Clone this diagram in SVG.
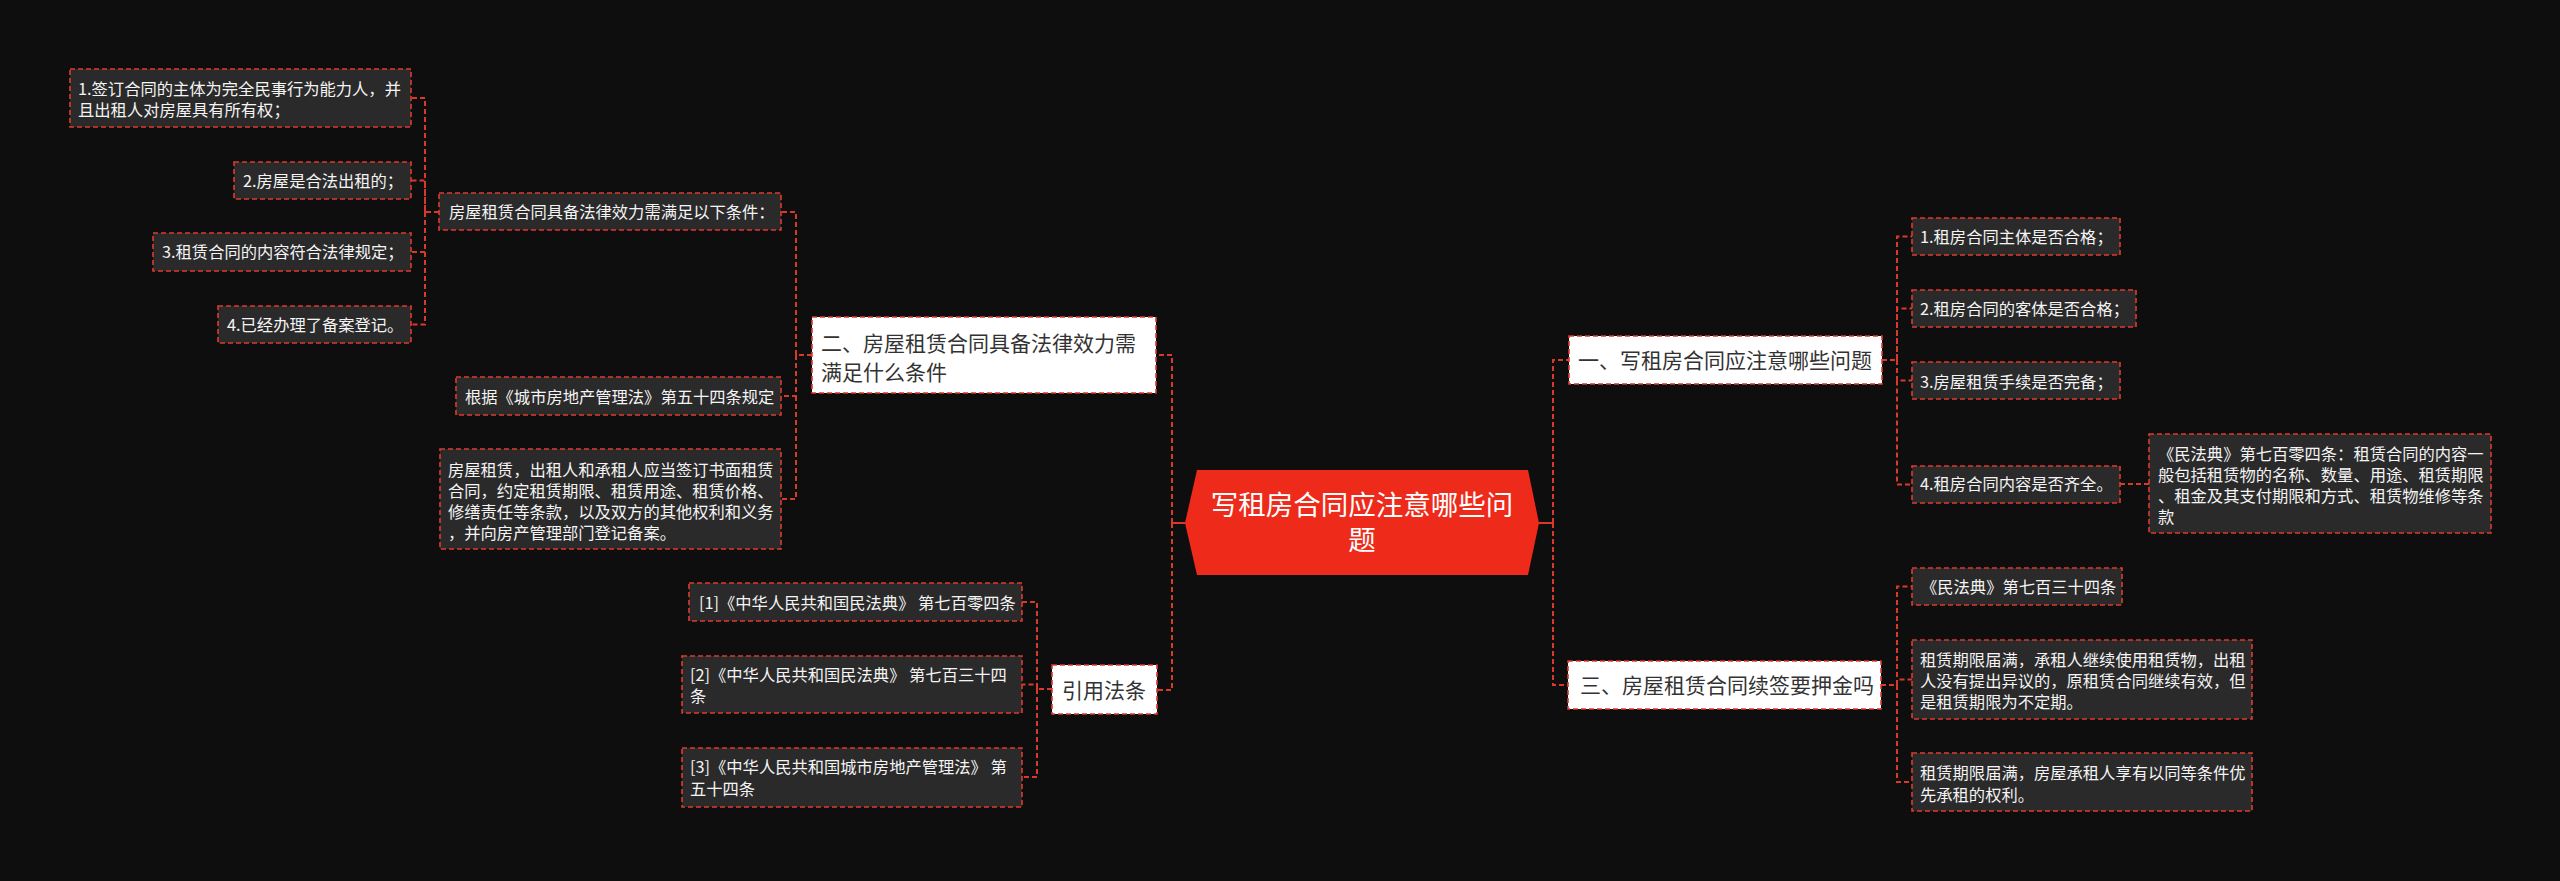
<svg xmlns="http://www.w3.org/2000/svg" width="2560" height="881" viewBox="0 0 2560 881">
<style>
.bg{fill:#0e0e0e}
text{font-family:"Noto Sans CJK SC","Noto Sans",sans-serif}
.leaf rect{fill:#2a2a2a;stroke:#e03a2e;stroke-width:1.6;stroke-dasharray:5 3}
.leaf text{fill:#f4f4f4;font-size:16.3px}
.l1 rect{fill:#ffffff;stroke:#e03a2e;stroke-width:1.6;stroke-dasharray:5 3}
.l1 text{fill:#333333;font-size:21px}
.root polygon{fill:#ee2a1a}
.root text{fill:#ffffff;font-size:27.5px;text-anchor:middle}
.conn path{fill:none;stroke:#d9382c;stroke-width:2;stroke-dasharray:5 3}
.conn path.solid{stroke-dasharray:none}
</style>
<rect class="bg" x="0" y="0" width="2560" height="881"/>
<g id="connectors" class="conn">
<path class="solid" d="M1185,523 H1172"/>
<path d="M1172,523 V355 H1156"/>
<path d="M1172,523 V690 H1157"/>
<path class="solid" d="M1539,523 H1553"/>
<path d="M1553,523 V360 H1569"/>
<path d="M1553,523 V685 H1568"/>
<path d="M812,355 H796 V212 H781"/>
<path d="M796,355 V396 H781"/>
<path d="M796,396 V499 H781"/>
<path d="M439,212 H425 V98 H411"/>
<path d="M425,212 V180.5 H411"/>
<path d="M425,212 V252 H411"/>
<path d="M425,252 V324.5 H411"/>
<path d="M1052,689 H1037 V602 H1022"/>
<path d="M1037,689 V684.5 H1022"/>
<path d="M1037,689 V777 H1022"/>
<path d="M1882,360 H1897 V236.5 H1912"/>
<path d="M1897,360 V308.5 H1912"/>
<path d="M1897,360 V380.5 H1912"/>
<path d="M1897,380.5 V484.5 H1912"/>
<path d="M2120,484 H2149"/>
<path d="M1881,685 H1897 V586.5 H1912"/>
<path d="M1897,685 V679.5 H1912"/>
<path d="M1897,685 V782 H1912"/>
</g>
<g id="root" class="root">
<polygon points="1197,470 1528,470 1539,523 1528,575 1197,575 1185,523"/>
<text x="1362" y="515">写租房合同应注意哪些问</text>
<text x="1362" y="550">题</text>
</g>
<g id="n-er" class="l1">
<rect x="812" y="317" width="344" height="76"/>
<text x="821" y="350.5">二、房屋租赁合同具备法律效力需</text>
<text x="821" y="379.5">满足什么条件</text>
</g>
<g id="n-yinyong" class="l1">
<rect x="1052" y="665" width="105" height="49"/>
<text x="1104" y="697.5" text-anchor="middle">引用法条</text>
</g>
<g id="n-yi" class="l1">
<rect x="1569" y="336" width="313" height="48"/>
<text x="1578" y="367.5">一、写租房合同应注意哪些问题</text>
</g>
<g id="n-san" class="l1">
<rect x="1568" y="661" width="313" height="48"/>
<text x="1580" y="692.5">三、房屋租赁合同续签要押金吗</text>
</g>
<g id="n-p1" class="leaf">
<rect x="439" y="193" width="342" height="37"/>
<text x="449" y="218">房屋租赁合同具备法律效力需满足以下条件：</text>
</g>
<g id="n-c1" class="leaf">
<rect x="70" y="69" width="341" height="58"/>
<text x="78" y="95">1.签订合同的主体为完全民事行为能力人，并</text>
<text x="78" y="116">且出租人对房屋具有所有权；</text>
</g>
<g id="n-c2" class="leaf">
<rect x="234" y="162" width="177" height="37"/>
<text x="243" y="186.5">2.房屋是合法出租的；</text>
</g>
<g id="n-c3" class="leaf">
<rect x="153" y="233" width="258" height="38"/>
<text x="162" y="258">3.租赁合同的内容符合法律规定；</text>
</g>
<g id="n-c4" class="leaf">
<rect x="218" y="306" width="193" height="37"/>
<text x="227" y="330.5">4.已经办理了备案登记。</text>
</g>
<g id="n-genju" class="leaf">
<rect x="456" y="377" width="325" height="38"/>
<text x="465" y="403">根据《城市房地产管理法》第五十四条规定</text>
</g>
<g id="n-fangwu" class="leaf">
<rect x="440" y="449" width="341" height="100"/>
<text x="448" y="475.5">房屋租赁，出租人和承租人应当签订书面租赁</text>
<text x="448" y="496.5">合同，约定租赁期限、租赁用途、租赁价格、</text>
<text x="448" y="517.5">修缮责任等条款，以及双方的其他权利和义务</text>
<text x="448" y="538.5">，并向房产管理部门登记备案。</text>
</g>
<g id="n-ref1" class="leaf">
<rect x="689" y="583" width="333" height="38"/>
<text x="699" y="609">[1]《中华人民共和国民法典》 第七百零四条</text>
</g>
<g id="n-ref2" class="leaf">
<rect x="682" y="656" width="340" height="57"/>
<text x="690" y="681">[2]《中华人民共和国民法典》 第七百三十四</text>
<text x="690" y="702">条</text>
</g>
<g id="n-ref3" class="leaf">
<rect x="682" y="748" width="340" height="59"/>
<text x="690" y="773">[3]《中华人民共和国城市房地产管理法》 第</text>
<text x="690" y="794.5">五十四条</text>
</g>
<g id="n-r1" class="leaf">
<rect x="1912" y="218" width="208" height="37"/>
<text x="1920" y="243">1.租房合同主体是否合格；</text>
</g>
<g id="n-r2" class="leaf">
<rect x="1912" y="290" width="224" height="37"/>
<text x="1920" y="315">2.租房合同的客体是否合格；</text>
</g>
<g id="n-r3" class="leaf">
<rect x="1912" y="362" width="208" height="37"/>
<text x="1920" y="387.5">3.房屋租赁手续是否完备；</text>
</g>
<g id="n-r4" class="leaf">
<rect x="1912" y="466" width="208" height="37"/>
<text x="1920" y="490">4.租房合同内容是否齐全。</text>
</g>
<g id="n-r4a" class="leaf">
<rect x="2149" y="434" width="342" height="99"/>
<text x="2158" y="459.5">《民法典》第七百零四条：租赁合同的内容一</text>
<text x="2158" y="480.5">般包括租赁物的名称、数量、用途、租赁期限</text>
<text x="2158" y="501.5">、租金及其支付期限和方式、租赁物维修等条</text>
<text x="2158" y="522.5">款</text>
</g>
<g id="n-s1" class="leaf">
<rect x="1912" y="568" width="210" height="37"/>
<text x="1921" y="593">《民法典》第七百三十四条</text>
</g>
<g id="n-s2" class="leaf">
<rect x="1912" y="640" width="340" height="79"/>
<text x="1920" y="665.5">租赁期限届满，承租人继续使用租赁物，出租</text>
<text x="1920" y="686.5">人没有提出异议的，原租赁合同继续有效，但</text>
<text x="1920" y="707.5">是租赁期限为不定期。</text>
</g>
<g id="n-s3" class="leaf">
<rect x="1912" y="753" width="340" height="58"/>
<text x="1920" y="779">租赁期限届满，房屋承租人享有以同等条件优</text>
<text x="1920" y="800.5">先承租的权利。</text>
</g>
</svg>
